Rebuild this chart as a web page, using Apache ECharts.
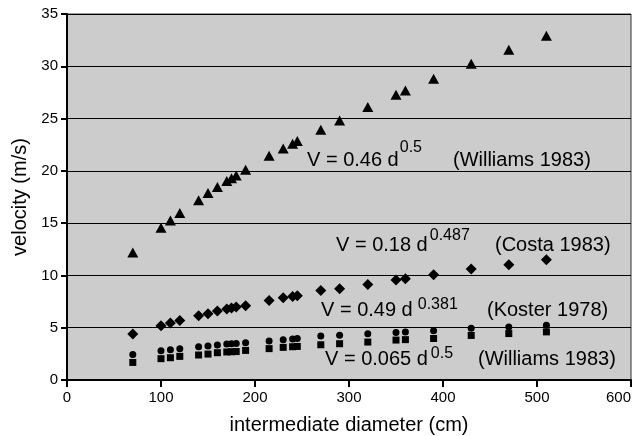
<!DOCTYPE html>
<html>
<head>
<meta charset="utf-8">
<script src="https://cdn.jsdelivr.net/npm/echarts@6/dist/echarts.min.js"></script>
<style>
  html, body { margin: 0; padding: 0; background: #fff; }
  #chart { width: 634px; height: 436px; }
</style>
</head>
<body>
<div id="chart"></div>
<script>
// intermediate diameter (cm)
const diameters = [70, 100, 110, 120, 140, 150, 160, 170, 175, 180, 190, 215, 230, 240, 245,
  270, 290, 320, 350, 360, 390, 430, 470, 510]

// velocity (m/s)
const williams46 = [12.2, 14.56, 15.26, 15.96, 17.2, 17.88, 18.45, 19.02, 19.3, 19.56, 20.1, 21.44, 22.14, 22.6, 22.85,
  23.93, 24.82, 26.1, 27.27, 27.69, 28.8, 30.24, 31.58, 32.92]
const costa = [4.4, 5.19, 5.45, 5.7, 6.15, 6.34, 6.6, 6.79, 6.88, 6.98, 7.1, 7.61, 7.87, 7.99, 8.06,
  8.57, 8.73, 9.14, 9.56, 9.68, 10.07, 10.61, 11.02, 11.5]
const koster = [2.45, 2.8, 2.9, 3.0, 3.18, 3.25, 3.34, 3.44, 3.47, 3.5, 3.57, 3.73, 3.85, 3.92, 3.98,
  4.2, 4.27, 4.43, 4.55, 4.58, 4.7, 4.95, 5.08, 5.24]
const williams065 = [1.68, 2.04, 2.13, 2.26, 2.39, 2.48, 2.61, 2.68, 2.7, 2.72, 2.83, 3.0, 3.12, 3.18, 3.21,
  3.37, 3.47, 3.63, 3.82, 3.86, 3.97, 4.26, 4.44, 4.6]

const FONT = '"Liberation Sans", Arial, Helvetica, sans-serif'

function pairs(ys) {
  return diameters.map((d, i) => [d, ys[i]])
}

function scatter(name, ys, symbol, size) {
  return {
    name: name,
    type: 'scatter',
    data: pairs(ys),
    symbol: symbol,
    symbolSize: size,
    itemStyle: { color: '#000', opacity: 1 },
    silent: true
  }
}

const ctx = document.createElement('canvas').getContext('2d')
function textWidth(text, size) {
  ctx.font = size + 'px ' + FONT
  return ctx.measureText(text).width
}

// one equation label: base text, superscript right after it, then the reference
function eqLabel(x, y, base, sup, supUp, supGap, refX, refText) {
  const t = (tx, ty, text, size) => ({
    type: 'text', x: tx, y: ty, silent: true,
    style: { text: text, fill: '#000', font: size + 'px ' + FONT, verticalAlign: 'middle', align: 'left' }
  })
  const supX = x + textWidth(base, 20) + supGap
  return [t(x, y, base, 20), t(supX, y - supUp, sup, 16), t(refX, y, refText, 20)]
}

const myChart = echarts.init(document.getElementById('chart'), null, { renderer: 'canvas' })
myChart.setOption({
  animation: false,
  backgroundColor: '#fff',
  textStyle: { fontFamily: FONT },
  grid: {
    left: 67, right: 3, top: 14, bottom: 56,
    outerBoundsMode: 'none',
    containLabel: false,
    show: true,
    backgroundColor: '#cccccc',
    borderColor: '#333',
    borderWidth: 1
  },
  xAxis: {
    type: 'value',
    min: 0, max: 600, interval: 100,
    name: 'intermediate diameter (cm)',
    nameLocation: 'middle',
    nameGap: 35,
    nameTextStyle: { fontSize: 20, color: '#000', fontFamily: FONT },
    axisLine: { lineStyle: { color: '#000', width: 2 } },
    axisTick: { length: 7, lineStyle: { color: '#000', width: 2 } },
    axisLabel: { fontSize: 15, color: '#000', margin: 10, fontFamily: FONT, alignMaxLabel: 'right' },
    splitLine: { show: false }
  },
  yAxis: {
    type: 'value',
    min: 0, max: 35, interval: 5,
    name: 'velocity (m/s)',
    nameLocation: 'middle',
    nameGap: 33,
    nameTextStyle: { fontSize: 20, color: '#000', fontFamily: FONT },
    axisLine: { show: true, lineStyle: { color: '#000', width: 2 } },
    axisTick: { show: true, length: 6, lineStyle: { color: '#000', width: 2 } },
    axisLabel: { fontSize: 15, color: '#000', margin: 9, fontFamily: FONT },
    splitLine: { show: true, lineStyle: { color: '#000', width: 1 } }
  },
  series: [
    scatter('Williams 1983 (0.46)', williams46, 'triangle', [11, 10]),
    scatter('Costa 1983', costa, 'diamond', [11, 11]),
    scatter('Koster 1978', koster, 'circle', 7),
    scatter('Williams 1983 (0.065)', williams065, 'rect', [7, 7])
  ],
  graphic: [].concat(
    eqLabel(307, 160, 'V = 0.46 d', '0.5', 12, 1, 453, '(Williams 1983)'),
    eqLabel(336, 245, 'V = 0.18 d', '0.487', 9, 2, 495, '(Costa 1983)'),
    eqLabel(321, 310, 'V = 0.49 d', '0.381', 5, 5, 487, '(Koster 1978)'),
    eqLabel(325, 359, 'V = 0.065 d', '0.5', 5, 3, 478, '(Williams 1983)')
  )
})
</script>
</body>
</html>
